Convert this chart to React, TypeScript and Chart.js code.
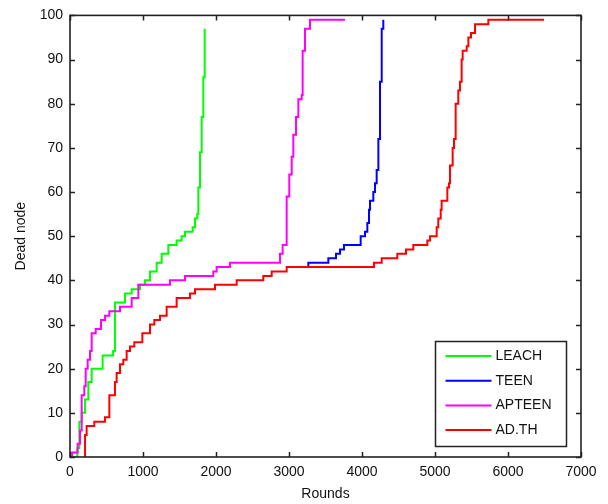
import React, { useEffect, useRef } from "react";
import { Chart, registerables } from "chart.js";

Chart.register(...registerables);

// ---- data (rounds at which the dead-node count steps to the given value) ----
const seriesLabels = ["LEACH", "TEEN", "APTEEN", "AD.TH"];
const seriesColors = ["#00ff00", "#0000ff", "#ff00ff", "#ff0000"];

const leachRounds = [70, 100, 128, 160, 205, 251, 297, 447, 590, 616, 753, 845, 959, 1027, 1096, 1187, 1256, 1347, 1461, 1530, 1575, 1680, 1712, 1744, 1758, 1781, 1804, 1826, 1845];
const leachDead = [0, 2, 8, 10, 13, 17, 20, 23, 24, 35, 37, 38, 39, 40, 42, 44, 46, 48, 49, 50, 51, 52, 54, 55, 61, 69, 77, 86, 97];

const teenRounds = [2968, 3265, 3539, 3644, 3699, 3753, 3982, 4041, 4073, 4096, 4110, 4155, 4178, 4201, 4224, 4247, 4270, 4292];
const teenDead = [43, 44, 45, 46, 47, 48, 50, 51, 53, 56, 58, 60, 62, 65, 72, 85, 97, 99];

const apteenRounds = [23, 30, 105, 137, 160, 196, 215, 242, 274, 297, 352, 425, 480, 539, 685, 845, 936, 1370, 1575, 1963, 2009, 2192, 2877, 2913, 2968, 3004, 3037, 3059, 3096, 3128, 3174, 3187, 3219, 3288, 3767];
const apteenDead = [0, 1, 3, 6, 14, 16, 20, 22, 24, 28, 29, 31, 32, 33, 34, 36, 39, 40, 41, 42, 43, 44, 46, 48, 59, 64, 68, 73, 77, 81, 82, 92, 97, 99, 99];

const adthRounds = [205, 206, 228, 333, 479, 539, 616, 639, 685, 730, 776, 822, 881, 991, 1096, 1155, 1233, 1324, 1461, 1644, 1712, 1986, 2283, 2648, 2763, 2968, 4164, 4270, 4484, 4603, 4703, 4895, 4932, 5023, 5045, 5078, 5091, 5169, 5192, 5205, 5242, 5260, 5283, 5319, 5342, 5365, 5379, 5434, 5457, 5493, 5548, 5731, 6493];
const adthDead = [0, 5, 7, 8, 9, 14, 17, 19, 21, 22, 24, 25, 26, 28, 30, 31, 32, 34, 36, 37, 38, 39, 40, 41, 42, 43, 44, 45, 46, 47, 48, 49, 50, 52, 54, 56, 58, 61, 62, 66, 70, 72, 80, 83, 85, 90, 92, 93, 95, 96, 98, 99, 99];

const xTicks = [0, 1000, 2000, 3000, 4000, 5000, 6000, 7000];
const yTicks = [0, 10, 20, 30, 40, 50, 60, 70, 80, 90, 100];

const xTitle = "Rounds";
const yTitle = "Dead node";

const FONT = '"Liberation Sans", Arial, Helvetica, sans-serif';

const toPoints = (xs: number[], ys: number[]) => xs.map((x, i) => ({ x, y: ys[i] }));

const framePlugin = {
  id: "frameAndLegend",
  afterDatasetsDraw(chart: any) {
    const { ctx, chartArea } = chart;
    const { left, right, top, bottom } = chartArea;
    const xs = chart.scales.x;
    const ys = chart.scales.y;
    ctx.save();
    ctx.strokeStyle = "#222";
    ctx.lineWidth = 1.5;
    ctx.beginPath();
    const tl = 5;
    for (const t of xs.ticks) {
      const px = Math.round(xs.getPixelForValue(t.value)) + 0.5;
      ctx.moveTo(px, bottom);
      ctx.lineTo(px, bottom - tl);
      ctx.moveTo(px, top);
      ctx.lineTo(px, top + tl);
    }
    for (const t of ys.ticks) {
      const py = Math.round(ys.getPixelForValue(t.value)) + 0.5;
      ctx.moveTo(left, py);
      ctx.lineTo(left + tl, py);
      ctx.moveTo(right, py);
      ctx.lineTo(right - tl, py);
    }
    ctx.stroke();
    ctx.lineWidth = 1.6;
    ctx.strokeRect(left, top, right - left, bottom - top);

    // legend box inside the plot area
    const bw = 131;
    const bh = 105;
    const bx = Math.round(right - 15 - bw) + 0.5;
    const by = Math.round(bottom - 11 - bh) + 0.5;
    ctx.fillStyle = "#fff";
    ctx.fillRect(bx, by, bw, bh);
    ctx.lineWidth = 1.5;
    ctx.strokeStyle = "#222";
    ctx.strokeRect(bx, by, bw, bh);
    ctx.font = `14px ${FONT}`;
    ctx.textBaseline = "middle";
    ctx.textAlign = "left";
    chart.data.datasets.forEach((ds: any, i: number) => {
      const ry = by + 14.5 + i * 24.7;
      ctx.strokeStyle = ds.borderColor;
      ctx.lineWidth = 2;
      ctx.beginPath();
      ctx.moveTo(bx + 10, ry);
      ctx.lineTo(bx + 56, ry);
      ctx.stroke();
      ctx.fillStyle = "#111";
      ctx.fillText(ds.label, bx + 60, ry);
    });
    ctx.restore();
  },
};

export default function App() {
  const ref = useRef<HTMLCanvasElement | null>(null);
  useEffect(() => {
    if (!ref.current) return;
    const xsArr = [leachRounds, teenRounds, apteenRounds, adthRounds];
    const ysArr = [leachDead, teenDead, apteenDead, adthDead];
    const orders = [4, 3, 2, 1];
    const chart = new Chart(ref.current, {
      type: "line",
      data: {
        datasets: seriesLabels.map((label, i) => ({
          label,
          data: toPoints(xsArr[i], ysArr[i]),
          borderColor: seriesColors[i],
          backgroundColor: seriesColors[i],
          borderWidth: 2,
          pointRadius: 0,
          stepped: "before" as const,
          fill: false,
          order: orders[i],
        })),
      },
      options: {
        animation: false,
        responsive: false,
        maintainAspectRatio: false,
        devicePixelRatio: 1,
        layout: { padding: { left: 0, top: 14, right: 27, bottom: 0 } },
        plugins: {
          legend: { display: false },
          tooltip: { enabled: false },
        },
        scales: {
          x: {
            type: "linear",
            min: 0,
            max: 7000,
            grid: { display: false, drawTicks: false },
            border: { display: false },
            afterBuildTicks: (s: any) => {
              s.ticks = xTicks.map((v) => ({ value: v }));
            },
            afterFit: (s: any) => {
              s.height = 47;
            },
            ticks: {
              padding: 7,
              maxRotation: 0,
              autoSkip: false,
              color: "#111",
              font: { family: FONT, size: 14 },
              callback: (v: any) => String(v),
            },
            title: {
              display: true,
              text: xTitle,
              color: "#111",
              font: { family: FONT, size: 14 },
              padding: { top: 0, bottom: 1 },
            },
          },
          y: {
            type: "linear",
            min: 0,
            max: 100,
            grid: { display: false, drawTicks: false },
            border: { display: false },
            afterBuildTicks: (s: any) => {
              s.ticks = yTicks.map((v) => ({ value: v }));
            },
            afterFit: (s: any) => {
              s.width = 70;
            },
            ticks: {
              padding: 7,
              autoSkip: false,
              color: "#111",
              font: { family: FONT, size: 14 },
              callback: (v: any) => String(v),
            },
            title: {
              display: true,
              text: yTitle,
              color: "#111",
              font: { family: FONT, size: 14 },
              padding: { top: 13, bottom: 0 },
            },
          },
        },
      },
      plugins: [framePlugin],
    });
    return () => chart.destroy();
  }, []);
  return (
    <div style={{ position: "fixed", left: 0, top: 0, width: 608, height: 504, background: "#fff" }}>
      <canvas ref={ref} width={608} height={504} style={{ display: "block" }} />
    </div>
  );
}
